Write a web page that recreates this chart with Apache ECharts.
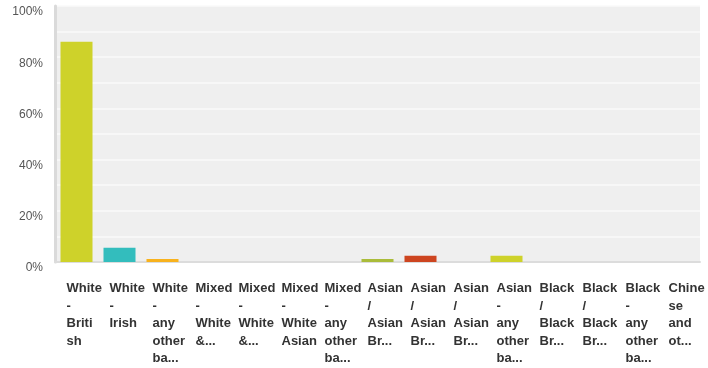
<!DOCTYPE html>
<html>
<head>
<meta charset="utf-8">
<script src="https://cdn.jsdelivr.net/npm/echarts@6/dist/echarts.min.js"></script>
<style>
  html, body { margin: 0; padding: 0; background: #fff; }
  #main { width: 708px; height: 368px; }
</style>
</head>
<body>
<div id="main"></div>
<script>
// categories as shown (already wrapped / truncated like the original)
var categories = [
  "White\n-\nBriti\nsh",
  "White\n-\nIrish",
  "White\n-\nany\nother\nba...",
  "Mixed\n-\nWhite\n&...",
  "Mixed\n-\nWhite\n&...",
  "Mixed\n-\nWhite\nAsian",
  "Mixed\n-\nany\nother\nba...",
  "Asian\n/\nAsian\nBr...",
  "Asian\n/\nAsian\nBr...",
  "Asian\n/\nAsian\nBr...",
  "Asian\n-\nany\nother\nba...",
  "Black\n/\nBlack\nBr...",
  "Black\n/\nBlack\nBr...",
  "Black\n-\nany\nother\nba...",
  "Chine\nse\nand\not..."
];
var values = [86.0, 5.6, 1.2, 0, 0, 0, 0, 1.2, 2.4, 0, 2.4, 0, 0, 0, 0];
var barColors = ["#ced22a", "#33bdbd", "#f8b21d", "#d0d42a", "#d0d42a", "#d0d42a", "#d0d42a",
                 "#aabc3a", "#cd4520", "#d0d42a", "#ced22a", "#d0d42a", "#d0d42a", "#d0d42a", "#d0d42a"];
var yTicks = { 0: "0%", 20: "20%", 40: "40%", 60: "60%", 80: "80%", 100: "100%" };

var myChart = echarts.init(document.getElementById("main"));

var option = {
  animation: false,
  textStyle: { fontFamily: "Liberation Sans, Arial, sans-serif" },
  grid: {
    left: 55, right: 8, top: 6, bottom: 106,
    show: true, backgroundColor: "#efefef", borderWidth: 0
  },
  xAxis: {
    type: "category",
    data: categories,
    axisLine: { show: true, lineStyle: { color: "#dcdcdc", width: 2 } },
    axisTick: { show: false },
    axisLabel: {
      interval: 0,
      align: "left",
      padding: [0, 0, 0, -10],
      margin: 18,
      color: "#333",
      fontSize: 13,
      fontWeight: "bold",
      lineHeight: 17.5
    }
  },
  yAxis: {
    type: "value",
    min: 0,
    max: 100,
    interval: 10,
    axisLine: { show: true, lineStyle: { color: "#dadada", width: 3 } },
    axisTick: { show: false },
    splitLine: { show: true, lineStyle: { color: "#fafafa", width: 1.5 } },
    axisLabel: {
      color: "#555",
      fontSize: 12,
      margin: 12,
      verticalAlign: "top",
      formatter: function (v) { return yTicks[v] || ""; }
    }
  },
  series: [
    {
      type: "bar",
      barWidth: 32,
      data: values.map(function (v, i) {
        return { value: v, itemStyle: { color: barColors[i] } };
      })
    }
  ]
};

myChart.setOption(option);
</script>
</body>
</html>
